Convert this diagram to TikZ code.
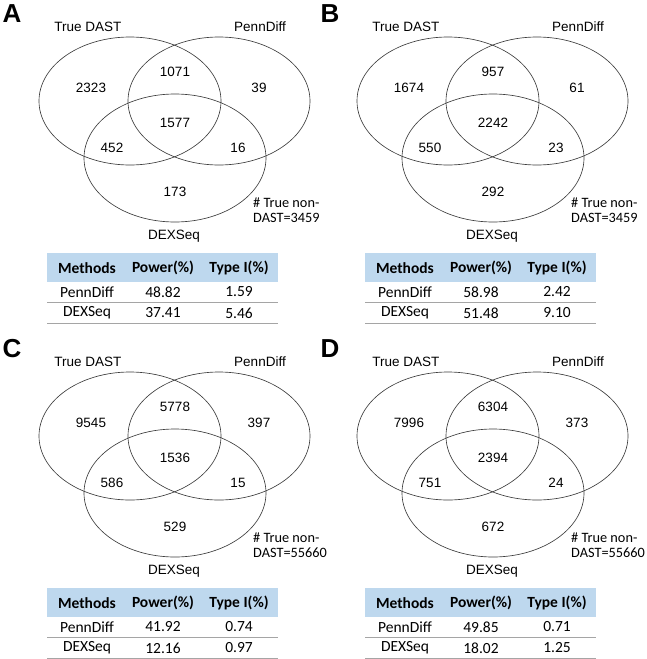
\documentclass[tikz,border=0pt]{standalone}
\usepackage{fontspec}
\setmainfont{Liberation Sans}
\newfontfamily\calfont{Carlito}
\definecolor{hdrblue}{RGB}{190,216,238}
\definecolor{vline}{RGB}{60,60,60}
\definecolor{tline}{RGB}{165,165,165}
\tikzset{
  vennline/.style={draw=vline, line width=0.65pt},
  num/.style={font=\fontsize{13.5}{15}\selectfont, inner sep=0pt},
  setlbl/.style={font=\fontsize{13.5}{15}\selectfont, inner sep=0pt},
  panlbl/.style={font=\fontsize{26}{28}\selectfont\bfseries, inner sep=0pt},
  note/.style={font=\calfont\fontsize{14.3}{16}\selectfont, inner sep=0pt, anchor=west},
  tcell/.style={font=\calfont\fontsize{15.5}{17}\selectfont, inner sep=0pt},
  thead/.style={font=\calfont\fontsize{15.5}{17}\selectfont\bfseries, inner sep=0pt},
  trule/.style={draw=tline, line width=0.8pt}
}
\begin{document}
\begin{tikzpicture}[x=1pt,y=-1pt]
\useasboundingbox (0,0) rectangle (646,659);
\foreach \Px/\Py/\Lt/\Va/\Vb/\Vc/\Vd/\Ve/\Vf/\Vg/\Vt/\Tpp/\Tpt/\Tdp/\Tdt in {
  0/0/A/2323/1071/39/1577/452/16/173/3459/48.82/1.59/37.41/5.46,
  318/0/B/1674/957/61/2242/550/23/292/3459/58.98/2.42/51.48/9.10,
  0/335/C/9545/5778/397/1536/586/15/529/55660/41.92/0.74/12.16/0.97,
  318/335/D/7996/6304/373/2394/751/24/672/55660/49.85/0.71/18.02/1.25}{
\begin{scope}[shift={(\Px,\Py)}]
  % table header background
  \fill[hdrblue] (47,253) rectangle (278,282);
  \draw[trule] (47,302) -- (278,302);
  \draw[trule] (47,323) -- (278,323);
  % ellipses
  \draw[vennline] (130,101) ellipse [x radius=91, y radius=64];
  \draw[vennline] (219,101) ellipse [x radius=91, y radius=64];
  \draw[vennline] (175,158) ellipse [x radius=91, y radius=64];
  % labels
  \node[panlbl] (lab\Lt) at (12,14) {\Lt};
  \node[setlbl] (td\Lt) at (88,27) {True DAST};
  \node[setlbl] (pd\Lt) at (260,27) {PennDiff};
  \node[setlbl] (dx\Lt) at (174,236) {DEXSeq};
  \node[num] (a\Lt) at (91,88) {\Va};
  \node[num] (b\Lt) at (175,72) {\Vb};
  \node[num] (c\Lt) at (259,88) {\Vc};
  \node[num] (d\Lt) at (175,123) {\Vd};
  \node[num] (e\Lt) at (112,148) {\Ve};
  \node[num] (f\Lt) at (238,148) {\Vf};
  \node[num] (g\Lt) at (175,192) {\Vg};
  \node[note] (n1\Lt) at (253,203) {\# True non-};
  \node[note] (n2\Lt) at (253,218) {DAST=\Vt};
  % table text
  \node[thead] (h1\Lt) at (87,268) {Methods};
  \node[thead] (h2\Lt) at (163,268) {Power(\%)};
  \node[thead] (h3\Lt) at (239,268) {Type I(\%)};
  \node[tcell] (r1\Lt) at (87,292) {PennDiff};
  \node[tcell] (r2\Lt) at (163,292) {\Tpp};
  \node[tcell] (r3\Lt) at (239,292) {\Tpt};
  \node[tcell] (s1\Lt) at (87,313) {DEXSeq};
  \node[tcell] (s2\Lt) at (163,313) {\Tdp};
  \node[tcell] (s3\Lt) at (239,313) {\Tdt};
\end{scope}
}
\end{tikzpicture}
\end{document}
